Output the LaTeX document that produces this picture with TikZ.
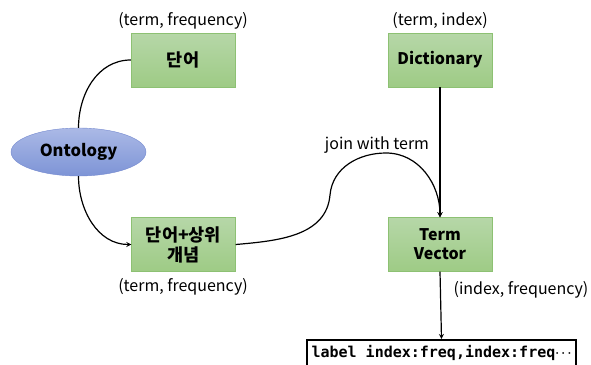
\documentclass[tikz,border=0pt]{standalone}
\usepackage{fontspec}
\setmainfont{Noto Sans CJK KR}
\setmonofont{DejaVu Sans Mono}
\usepackage{tikz}
\usepackage{xcolor}
\usetikzlibrary{positioning, shapes.geometric}
\definecolor{greentop}{HTML}{B6D7A8}
\definecolor{greenbot}{HTML}{9ECB85}
\definecolor{greenline}{HTML}{8DC173}
\definecolor{bluetop}{HTML}{ABB9E6}
\definecolor{bluebot}{HTML}{7D94D6}
\definecolor{blueline}{HTML}{7489CF}

\begin{document}
\begin{tikzpicture}[
    x=1pt, y=-1pt,
    box/.style={rectangle, draw=greenline, top color=greentop, bottom color=greenbot,
        minimum width=104pt, minimum height=54pt, inner sep=0pt, align=center,
        font=\fontsize{16}{19}\selectfont\bfseries},
    kor/.style={font=\fontsize{17.5}{20}\selectfont\bfseries},
    onto/.style={ellipse, draw=blueline, top color=bluetop, bottom color=bluebot,
        minimum width=135pt, minimum height=48pt, inner sep=0pt,
        font=\fontsize{16.5}{19}\selectfont\bfseries},
    tag/.style={font=\fontsize{16}{19}\selectfont, inner sep=0pt},
    link/.style={line width=1.2pt},
    >=stealth
]
    \useasboundingbox (0,0) rectangle (591,364);

    \node[box, kor] (word) at (183,60) {단어};
    \node[box] (dict) at (440,60) {Dictionary};
    \node[onto] (ont) at (78.5,152) {Ontology};
    \node[box, kor] (wordup) at (183.5,244.5) {단어+상위\\개념};
    \node[box] (tvec) at (440,244.5) {Term\\Vector};
    \node[draw, line width=2pt, minimum width=269pt, minimum height=26pt, inner sep=0pt,
        font=\fontsize{15}{18}\selectfont\ttfamily\bfseries] (line) at (441.5,353) {label index:freq,index:freq\raisebox{0.1ex}{\boldmath\fontsize{12.5}{15}\selectfont$\cdots$}};

    \node[tag] (tword) at (183,21) {(term, frequency)};
    \node[tag] (tdict) at (440,21) {(term, index)};
    \node[tag] (twordup) at (183,287) {(term, frequency)};
    \node[tag] (ttvec) at (521,290) {(index, frequency)};
    \node[tag] (tjoin) at (377,145) {join with term};

    \coordinate (bend) at (330,195);
    \coordinate (peak) at (386,153);

    \draw[link] (word.west) to[out=180, in=90] (ont.north);
    \draw[link, ->] (ont.south) to[out=-90, in=180] (wordup.west);
    \draw[link, ->] (wordup.east) to[out=5, in=-95] (bend) to[out=85, in=180] (peak) to[out=0, in=90] (tvec.north);
    \draw[link, ->] (dict.south) -- (tvec.north);
    \draw[link, ->] (tvec.south) -- (line.north);
\end{tikzpicture}
\end{document}
